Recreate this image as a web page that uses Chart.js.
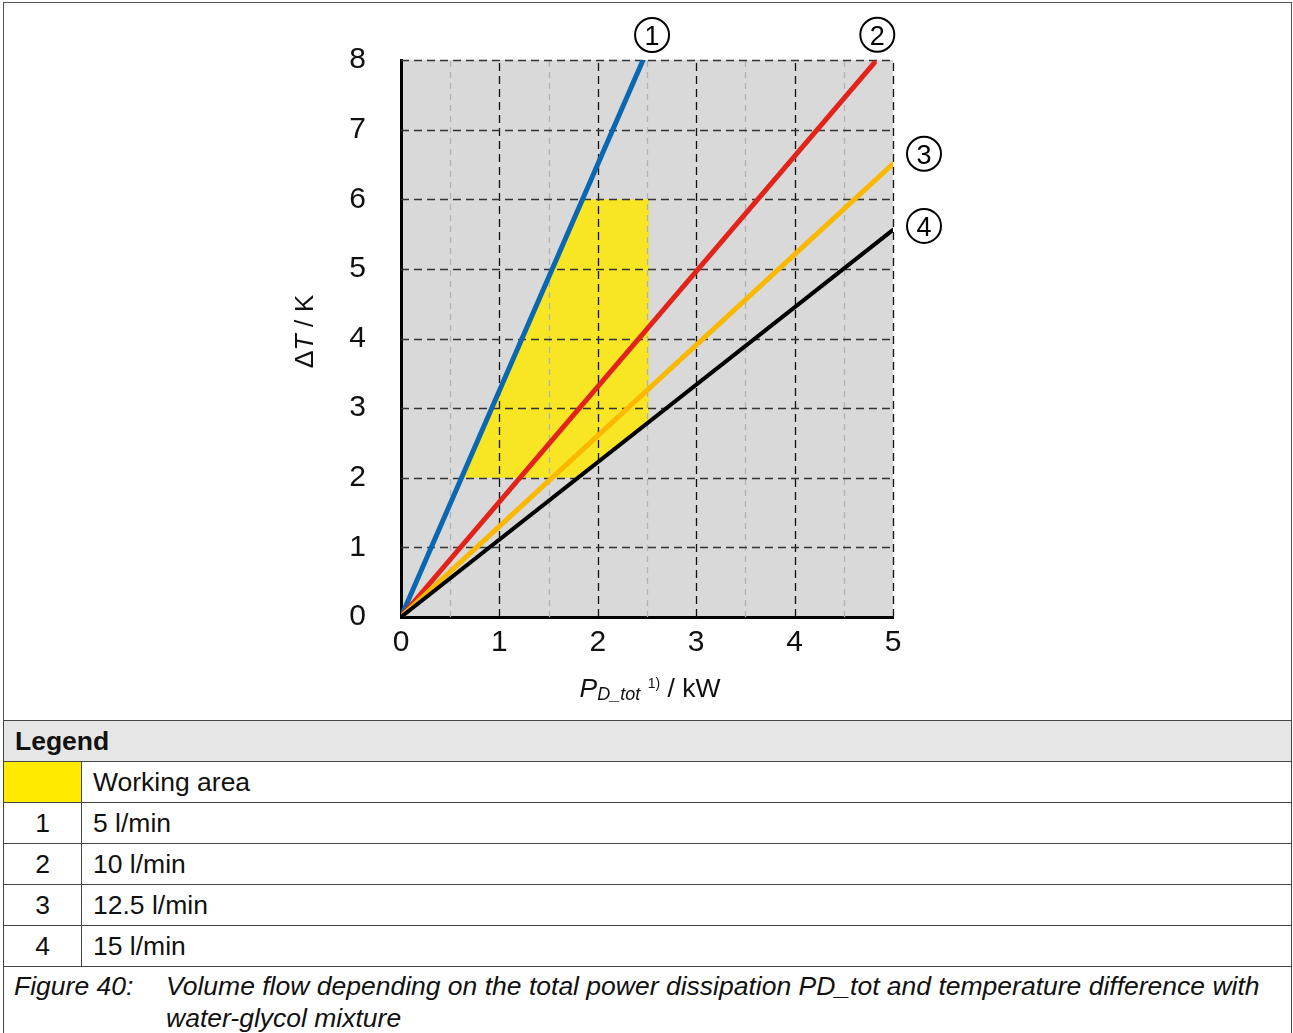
<!DOCTYPE html>
<html><head><meta charset="utf-8">
<script src="https://cdn.jsdelivr.net/npm/chart.js@4.4.0/dist/chart.umd.min.js"></script>
<style>
html,body{margin:0;padding:0;background:#fff;}
body{width:1293px;height:1033px;position:relative;overflow:hidden;font-family:"Liberation Sans",Arial,sans-serif;color:#111;}
#frame{position:absolute;left:3px;top:2px;width:1289px;height:1060px;border:1px solid #555;box-sizing:border-box;}
#chartBox{position:absolute;left:3px;top:2px;width:1288px;height:718px;}
#legend{position:absolute;left:3px;top:720px;width:1289px;border-collapse:collapse;font-size:26.5px;table-layout:fixed;}
#legend td{border:1px solid #444;padding:0;box-sizing:border-box;}
#legend tr.hdr td{background:#e6e6e6;font-weight:bold;height:41px;padding-left:11px;}
#legend tr.row td{height:41px;}
#legend td.c1{text-align:center;}
#legend td.c2{padding-left:11px;}
#legend td.sw{background:#ffea00;}
#legend tr.cap td{height:80px;border-bottom:none;vertical-align:top;font-style:italic;}
.capwrap{display:flex;padding-top:3px;line-height:32px;}
.fig{flex:none;box-sizing:border-box;width:162px;padding-left:10px;}
.txt{flex:1;}
</style></head>
<body>
<div id="frame"></div>
<div id="chartBox"><canvas id="c"></canvas></div>
<table id="legend"><colgroup><col style="width:78px"><col></colgroup><tbody id="lb"></tbody></table>
<script>
// ---- data ----
const xTickLabels = ['0','1','2','3','4','5'];
const yTickLabels = ['0','1','2','3','4','5','6','7','8'];
const curveTags = ['1','2','3','4'];
const curveNames = ['5 l/min','10 l/min','12.5 l/min','15 l/min'];
const areaName = 'Working area';
const curve1X = [0, 2.46];  const curve1Y = [0, 8.0];
const curve2X = [0, 4.81];  const curve2Y = [0, 7.96];
const curve3X = [0, 5.0];   const curve3Y = [0, 6.51];
const curve4X = [0, 5.0];   const curve4Y = [0, 5.56];
const areaX = [0.615, 1.845, 2.52, 2.52, 1.80];
const areaY = [2.0, 6.0, 6.0, 2.80, 2.0];
const captionLabel = 'Figure 40:';
const captionLine1 = 'Volume flow depending on the total power dissipation PD_tot and temperature difference with';
const captionLine2 = 'water-glycol mixture';

// ---- legend table ----
const lb = document.getElementById('lb');
let html = '<tr class="hdr"><td colspan="2">Legend</td></tr>';
html += '<tr class="row"><td class="c1 sw"></td><td class="c2">' + areaName + '</td></tr>';
curveTags.forEach((t,i)=>{ html += '<tr class="row"><td class="c1">'+t+'</td><td class="c2">'+curveNames[i]+'</td></tr>'; });
html += '<tr class="cap"><td colspan="2"><div class="capwrap"><span class="fig">'+captionLabel+'</span><span class="txt"><span style="white-space:nowrap">'+captionLine1+'</span><br>'+captionLine2+'</span></div></td></tr>';
lb.innerHTML = html;

// ---- chart ----
const FONT = '"Liberation Sans", Arial, sans-serif';
const pts = (xs, ys) => xs.map((x,i)=>({x, y: ys[i]}));
const colors = ['#0a68b2', '#e2231a', '#fbb800', '#000000'];
const curveX = [curve1X, curve2X, curve3X, curve4X];
const curveY = [curve1Y, curve2Y, curve3Y, curve4Y];
const widths = [5, 5, 5, 4];
const orders = [3, 2, 1, 0];

const datasets = curveX.map((xs,i)=>({
  label: curveNames[i], data: pts(xs, curveY[i]), showLine: true,
  borderColor: colors[i], borderWidth: widths[i], pointRadius: 0,
  borderCapStyle: 'round', order: orders[i], fill: false
}));
datasets.push({
  label: areaName, data: pts(areaX, areaY), showLine: true,
  borderColor: 'rgba(0,0,0,0)', borderWidth: 0, backgroundColor: '#f8e524',
  fill: 'shape', pointRadius: 0, order: 10
});
const AREA_INDEX = datasets.length - 1;

const bgPlugin = {
  id: 'bg',
  beforeDraw(chart){
    const {ctx, chartArea: a} = chart;
    ctx.save(); ctx.fillStyle = '#d9d9d9';
    ctx.fillRect(a.left, a.top, a.right - a.left, a.bottom - a.top);
    ctx.restore();
  }
};

const gridPlugin = {
  id: 'dashgrid',
  afterDatasetDraw(chart, args){
    if (args.index !== AREA_INDEX) return;
    const {ctx, chartArea: a, scales: {x, y}} = chart;
    ctx.save();
    ctx.lineWidth = 1.3;
    ctx.strokeStyle = '#b2b2b2'; ctx.setLineDash([6,5]);
    for (let k = 0; k < x.ticks.length - 1; k++) {
      const px = Math.round((x.getPixelForValue(x.ticks[k].value) + x.getPixelForValue(x.ticks[k+1].value)) / 2) + 0.5;
      ctx.beginPath(); ctx.moveTo(px, a.bottom); ctx.lineTo(px, a.top); ctx.stroke();
    }
    ctx.strokeStyle = '#111'; ctx.setLineDash([8,5]);
    x.ticks.forEach(t => {
      if (t.value === x.min) return;
      const px = Math.round(x.getPixelForValue(t.value)) + 0.5;
      ctx.beginPath(); ctx.moveTo(px, a.bottom); ctx.lineTo(px, a.top); ctx.stroke();
    });
    ctx.strokeStyle = '#333';
    y.ticks.forEach(t => {
      if (t.value === y.min) return;
      const py = Math.round(y.getPixelForValue(t.value)) + 0.5;
      ctx.beginPath(); ctx.moveTo(a.left, py); ctx.lineTo(a.right, py); ctx.stroke();
    });
    ctx.restore();
  }
};

const markerOffsets = [[9,-25],[3,-28],[31,-10],[31,-4]];
const markerPlugin = {
  id: 'markers',
  afterDatasetsDraw(chart){
    const ctx = chart.ctx;
    ctx.save();
    curveTags.forEach((tag, i) => {
      const meta = chart.getDatasetMeta(i);
      const p = meta.data[meta.data.length - 1];
      const cx = p.x + markerOffsets[i][0], cy = p.y + markerOffsets[i][1];
      ctx.beginPath(); ctx.arc(cx, cy, 17, 0, Math.PI*2);
      ctx.lineWidth = 2; ctx.strokeStyle = '#000'; ctx.setLineDash([]); ctx.stroke();
      ctx.fillStyle = '#000'; ctx.font = '27px ' + FONT;
      ctx.textAlign = 'center'; ctx.textBaseline = 'alphabetic';
      ctx.fillText(tag, cx, cy + 10);
    });
    ctx.restore();
  }
};

const titlePlugin = {
  id: 'titles',
  afterDraw(chart){
    const {ctx, chartArea: a} = chart;
    ctx.save(); ctx.fillStyle = '#111'; ctx.textBaseline = 'alphabetic'; ctx.textAlign = 'left';
    const parts = [
      {t:'P', f:'italic 26.5px ' + FONT, dy:0},
      {t:'D_tot', f:'italic 18px ' + FONT, dy:3},
      {t:' ', f:'26.5px ' + FONT, dy:0},
      {t:'1)', f:'14px ' + FONT, dy:-9},
      {t:' / kW', f:'26.5px ' + FONT, dy:0}
    ];
    let w = 0;
    parts.forEach(p => { ctx.font = p.f; p.w = ctx.measureText(p.t).width; w += p.w; });
    let xx = (a.left + a.right) / 2 + 3 - w / 2;
    const base = a.bottom + 80;
    parts.forEach(p => { ctx.font = p.f; ctx.fillText(p.t, xx, base + p.dy); xx += p.w; });
    const yparts = [
      {t:'Δ', f:'26.5px ' + FONT},
      {t:'T', f:'italic 26.5px ' + FONT},
      {t:' / K', f:'26.5px ' + FONT}
    ];
    let yw = 0;
    yparts.forEach(p => { ctx.font = p.f; p.w = ctx.measureText(p.t).width; yw += p.w; });
    ctx.translate(a.left - 88, (a.top + a.bottom) / 2 - 7);
    ctx.rotate(-Math.PI / 2);
    let tx = -yw / 2;
    yparts.forEach(p => { ctx.font = p.f; ctx.fillText(p.t, tx, 0); tx += p.w; });
    ctx.restore();
  }
};

new Chart(document.getElementById('c'), {
  type: 'scatter',
  data: { datasets },
  options: {
    responsive: true, maintainAspectRatio: false, animation: false,
    layout: { padding: { left: 318, right: 398, top: 58, bottom: 43 } },
    plugins: { legend: { display: false }, tooltip: { enabled: false } },
    scales: {
      x: {
        type: 'linear', min: 0, max: 5,
        afterFit(s){ s.height = 60; },
        grid: { display: false },
        border: { display: true, color: '#000', width: 3 },
        ticks: { stepSize: 1, padding: 0, maxRotation: 0, autoSkip: false, color: '#111',
          font: { size: 30, family: FONT },
          callback: v => xTickLabels[v] !== undefined ? xTickLabels[v] : '' }
      },
      y: {
        type: 'linear', min: 0, max: 8,
        afterFit(s){ s.width = 80; },
        grid: { display: false },
        border: { display: true, color: '#000', width: 3 },
        ticks: { stepSize: 1, padding: 27, autoSkip: false, color: '#111',
          font: { size: 30, family: FONT },
          callback: v => yTickLabels[v] !== undefined ? yTickLabels[v] : '' }
      }
    }
  },
  plugins: [bgPlugin, gridPlugin, markerPlugin, titlePlugin]
});
</script>
</body></html>
